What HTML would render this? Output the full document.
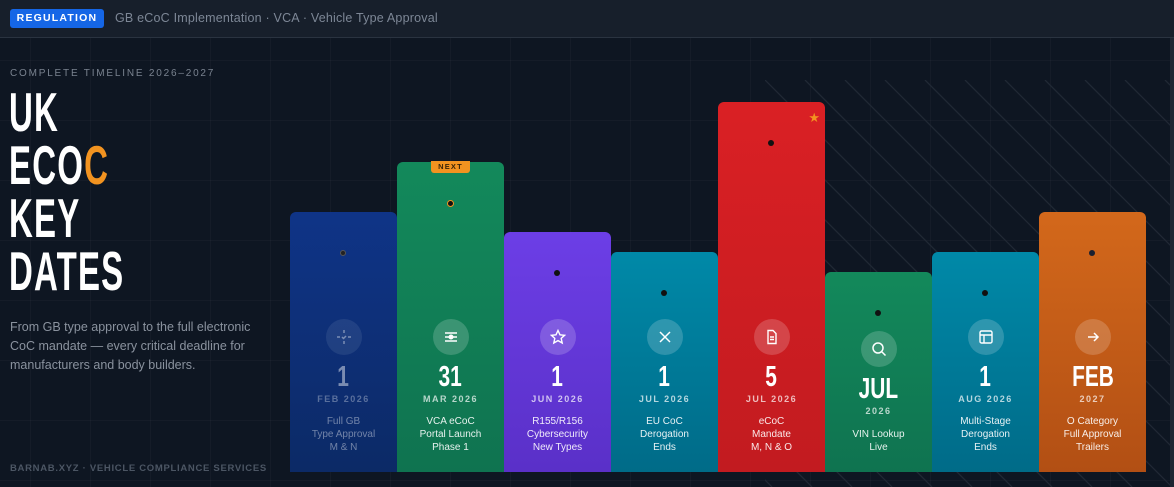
<!DOCTYPE html>
<html><head><meta charset="utf-8"><style>
*{margin:0;padding:0;box-sizing:border-box}
body{width:1174px;height:487px;overflow:hidden;background:#0e1622;font-family:"Liberation Sans",sans-serif;position:relative}
.grid{position:absolute;inset:0;background-image:linear-gradient(90deg,rgba(255,255,255,0.028) 1px,transparent 1px),linear-gradient(rgba(255,255,255,0.028) 1px,transparent 1px);background-size:60px 60px;background-position:30px 0,0 0}
.hdr{position:absolute;left:0;top:0;width:1174px;height:38px;background:#171f2b;border-bottom:1px solid #2a3340}
.badge{position:absolute;left:10px;top:9px;width:94px;height:19px;background:#1566e6;border-radius:3px;color:#fff;font-weight:bold;font-size:10.5px;letter-spacing:1.2px;text-align:center;line-height:19px}
.htxt{position:absolute;left:115px;top:11px;color:#7d8796;font-size:12.5px;letter-spacing:.2px}
.kick{position:absolute;left:10px;top:68px;color:#7a8390;font-size:10px;letter-spacing:1.8px}
.title{position:absolute;left:9px;top:86px;color:#fff;font-weight:bold;font-size:55px;line-height:53px;transform:scaleX(0.6);transform-origin:left top;letter-spacing:2px}
.title span{color:#f29320}
.desc{position:absolute;left:10px;top:318px;width:260px;color:#8a929e;font-size:12.5px;line-height:19px}
.foot{position:absolute;left:10px;top:463px;color:#4c5664;font-size:9.5px;letter-spacing:0.7px;font-weight:bold}
.bar{position:absolute;bottom:15px;width:107px;border-radius:6px 6px 0 0;display:flex;flex-direction:column;align-items:center;justify-content:flex-end;padding-bottom:18px;color:#fff;text-align:center}
.dot{position:absolute;top:38px;left:50px;width:6px;height:6px;border-radius:50%;background:#111}
.ic{width:36px;height:36px;border-radius:50%;background:rgba(255,255,255,0.18);display:flex;align-items:center;justify-content:center;margin-bottom:7px}
.num{font-weight:bold;font-size:29px;line-height:30px;height:30px;transform:scaleX(0.72)}
.mon{font-size:9px;letter-spacing:1.5px;line-height:14px;color:rgba(255,255,255,0.7);font-weight:bold;margin-bottom:9px}
.d{font-size:10px;line-height:13px;color:rgba(255,255,255,0.9)}
</style></head><body>
<div class="grid"></div>
<svg style="position:absolute;left:0;top:0" width="1174" height="487">
<defs><clipPath id="c"><rect x="765" y="80" width="405" height="407"/></clipPath></defs>
<g clip-path="url(#c)" stroke="#202935" stroke-width="1.3">
<line x1="365" y1="80" x2="772" y2="487"/><line x1="405" y1="80" x2="812" y2="487"/><line x1="445" y1="80" x2="852" y2="487"/><line x1="485" y1="80" x2="892" y2="487"/><line x1="525" y1="80" x2="932" y2="487"/><line x1="565" y1="80" x2="972" y2="487"/><line x1="605" y1="80" x2="1012" y2="487"/><line x1="645" y1="80" x2="1052" y2="487"/><line x1="685" y1="80" x2="1092" y2="487"/><line x1="725" y1="80" x2="1132" y2="487"/><line x1="765" y1="80" x2="1172" y2="487"/><line x1="805" y1="80" x2="1212" y2="487"/><line x1="845" y1="80" x2="1252" y2="487"/><line x1="885" y1="80" x2="1292" y2="487"/><line x1="925" y1="80" x2="1332" y2="487"/><line x1="965" y1="80" x2="1372" y2="487"/><line x1="1005" y1="80" x2="1412" y2="487"/><line x1="1045" y1="80" x2="1452" y2="487"/><line x1="1085" y1="80" x2="1492" y2="487"/><line x1="1125" y1="80" x2="1532" y2="487"/><line x1="1165" y1="80" x2="1572" y2="487"/>
</g>
<rect x="1170" y="38" width="4" height="449" fill="#1d2532"/>
</svg>
<div class="hdr"><div class="badge">REGULATION</div><div class="htxt">GB eCoC Implementation · VCA · Vehicle Type Approval</div></div>
<div class="kick">COMPLETE TIMELINE 2026–2027</div>
<div class="title">UK<br>ECO<span>C</span><br>KEY<br>DATES</div>
<div class="desc">From GB type approval to the full electronic CoC mandate — every critical deadline for manufacturers and body builders.</div>
<div class="foot">BARNAB.XYZ · VEHICLE COMPLIANCE SERVICES</div>

<div class="bar" style="left:290px;top:212px;background:linear-gradient(#0f3487,#0c2a66)"><div class="dot" style="background:#222;border:1px solid #555"></div>
<div style="opacity:.45;display:flex;flex-direction:column;align-items:center"><div class="ic"><svg width="16" height="16" stroke="#fff" stroke-width="1.5" fill="none"><path d="M8 1v3M8 12v3M1 8h3M12 8h3M6 8l1.5 1.5L10 7"/></svg></div>
<div class="num">1</div><div class="mon">FEB 2026</div><div class="d">Full GB<br>Type Approval<br>M &amp; N</div></div></div>

<div class="bar" style="left:397px;top:162px;background:linear-gradient(#13895b,#0f7350)"><div style="position:absolute;top:-1px;left:34px;width:39px;height:12px;background:#f29320;border-radius:0 0 3px 3px;font-size:7.5px;font-weight:bold;letter-spacing:1.2px;color:#3a2508;line-height:12px">NEXT</div><div class="dot" style="background:#111;border:1.5px solid #f29320;width:7px;height:7px"></div>
<div class="ic"><svg width="16" height="16" stroke="#fff" stroke-width="1.5" fill="none"><path d="M2 4h12M2 8h12M2 12h12"/><circle cx="8" cy="8" r="1.8" fill="#fff"/></svg></div>
<div class="num">31</div><div class="mon">MAR 2026</div><div class="d">VCA eCoC<br>Portal Launch<br>Phase 1</div></div>

<div class="bar" style="left:504px;top:232px;background:linear-gradient(#6c3ee6,#5a30c8)"><div class="dot"></div>
<div class="ic"><svg width="16" height="16" stroke="#fff" stroke-width="1.4" fill="none"><path d="M8 1.5l2 4.3 4.6.5-3.4 3.1 1 4.6L8 11.6 3.8 14l1-4.6L1.4 6.3 6 5.8z"/></svg></div>
<div class="num">1</div><div class="mon">JUN 2026</div><div class="d">R155/R156<br>Cybersecurity<br>New Types</div></div>

<div class="bar" style="left:611px;top:252px;background:linear-gradient(#0089a8,#006b88)"><div class="dot"></div>
<div class="ic"><svg width="14" height="14" stroke="#fff" stroke-width="1.5"><path d="M2 2l10 10M12 2L2 12"/></svg></div>
<div class="num">1</div><div class="mon">JUL 2026</div><div class="d">EU CoC<br>Derogation<br>Ends</div></div>

<div class="bar" style="left:718px;top:102px;background:linear-gradient(#da2024,#c21b20)"><div class="dot"></div><div style="position:absolute;top:8px;right:5px;color:#f29320;font-size:13px">★</div>
<div class="ic"><svg width="16" height="16" stroke="#fff" stroke-width="1.4" fill="none"><path d="M4 1.5h5l3 3v10H4z"/><path d="M6 8h4M6 10.5h4"/></svg></div>
<div class="num">5</div><div class="mon">JUL 2026</div><div class="d">eCoC<br>Mandate<br>M, N &amp; O</div></div>

<div class="bar" style="left:825px;top:272px;background:linear-gradient(#13895b,#0f7350)"><div class="dot"></div>
<div class="ic"><svg width="16" height="16" stroke="#fff" stroke-width="1.5" fill="none"><circle cx="7" cy="7" r="5"/><path d="M11 11l3.5 3.5"/></svg></div>
<div class="num">JUL</div><div class="mon" style="margin-bottom:10px">2026</div><div class="d">VIN Lookup<br>Live</div></div>

<div class="bar" style="left:932px;top:252px;background:linear-gradient(#0089a8,#006b88)"><div class="dot"></div>
<div class="ic"><svg width="16" height="16" stroke="#fff" stroke-width="1.4" fill="none"><rect x="2" y="2" width="12" height="12" rx="1.5"/><path d="M2 6h12M6 6v8"/></svg></div>
<div class="num">1</div><div class="mon">AUG 2026</div><div class="d">Multi-Stage<br>Derogation<br>Ends</div></div>

<div class="bar" style="left:1039px;top:212px;background:linear-gradient(#d3681b,#b24f14)"><div class="dot" style="background:#1a2030"></div>
<div class="ic"><svg width="14" height="14" stroke="#fff" stroke-width="1.5" fill="none"><path d="M2 7h10M8 3l4 4-4 4"/></svg></div>
<div class="num">FEB</div><div class="mon">2027</div><div class="d">O Category<br>Full Approval<br>Trailers</div></div>
</body></html>
